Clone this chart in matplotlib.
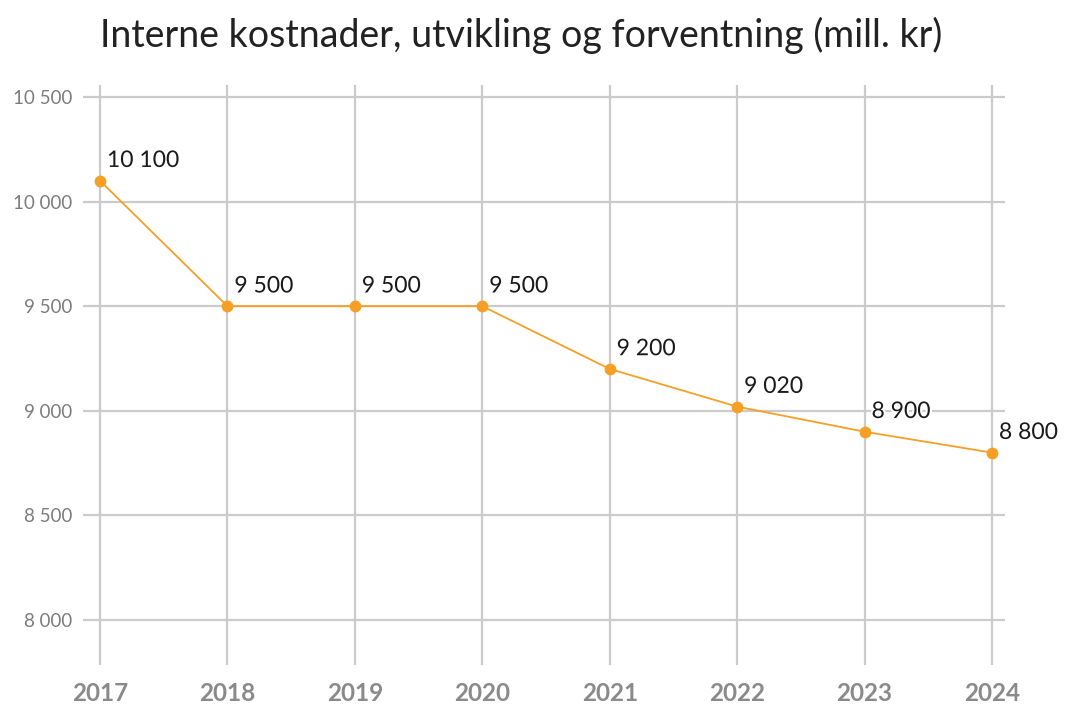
import matplotlib
matplotlib.use("Agg")
import matplotlib.pyplot as plt
import matplotlib.patheffects as pe
from matplotlib.ticker import FuncFormatter

plt.rcParams['font.family'] = ['Lato', 'DejaVu Sans']

years = [2017, 2018, 2019, 2020, 2021, 2022, 2023, 2024]
costs = [10100, 9500, 9500, 9500, 9200, 9020, 8900, 8800]
y_ticks = [8000, 8500, 9000, 9500, 10000, 10500]
title = "Interne kostnader, utvikling og forventning (mill. kr)"

def fmt(v):
    return f"{int(v):,}".replace(",", " ")

fig = plt.figure(figsize=(10.66, 7.04), dpi=100)
ax = fig.add_axes([83/1066, 1-665/704, (1005-83)/1066, (665-85)/704])

line_color = '#F5A025'
ax.plot(years, costs, color=line_color, lw=1.3, marker='o', ms=7.5, zorder=3)

for x, y in zip(years, costs):
    ax.annotate(fmt(y), (x, y), xytext=(5, 7), textcoords='offset points',
                fontsize=16.5, color='#1a1a1a', ha='left', va='bottom',
                path_effects=[pe.withStroke(linewidth=3, foreground='white')], zorder=4)

ax.set_xlim(2017 - 17/127.43, 2024 + 13/127.43)
ax.set_ylim(8000 - 45/104.6*500, 10500 + 12/104.6*500)
ax.set_xticks(years)
ax.set_yticks(y_ticks)
ax.yaxis.set_major_formatter(FuncFormatter(lambda v, p: fmt(v)))
ax.grid(True, color='#cbcbcb', lw=1.6)
ax.set_axisbelow(True)
for s in ax.spines.values():
    s.set_visible(False)
ax.tick_params(axis='both', length=0)
ax.tick_params(axis='y', pad=8, labelsize=13.5, labelcolor='#7c7c7c')
ax.tick_params(axis='x', pad=12, labelsize=17.5, labelcolor='#8a8a8a')
for lab in ax.get_xticklabels():
    lab.set_fontweight('bold')

fig.text(521/1066, 1-47/704, title, ha='center', va='baseline',
         fontsize=27, color='#222222')

fig.savefig('out.png', dpi=100, facecolor='white')
